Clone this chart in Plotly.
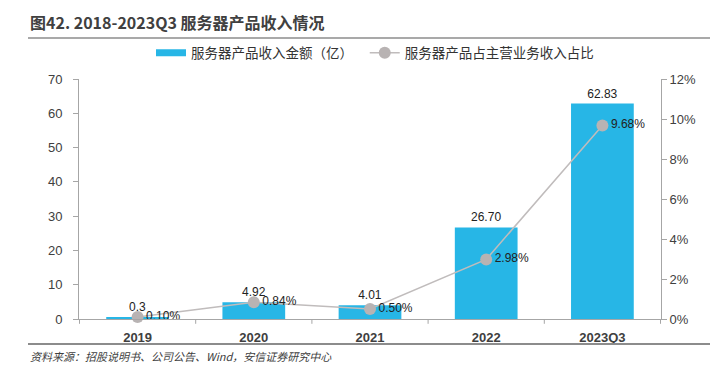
import plotly.graph_objects as go

categories = ["2019", "2020", "2021", "2022", "2023Q3"]
revenue = [0.3, 4.92, 4.01, 26.70, 62.83]
revenue_labels = ["0.3", "4.92", "4.01", "26.70", "62.83"]
share = [0.10, 0.84, 0.50, 2.98, 9.68]
share_labels = ["0.10%", "0.84%", "0.50%", "2.98%", "9.68%"]
left_ticks = [0, 10, 20, 30, 40, 50, 60, 70]
right_ticks = [0, 2, 4, 6, 8, 10, 12]
right_tick_labels = ["0%", "2%", "4%", "6%", "8%", "10%", "12%"]

FONT = "Liberation Sans, Arial, Noto Sans CJK SC, sans-serif"
CJK = "Noto Sans CJK SC, sans-serif"
BLUE = "#27b6e6"

fig = go.Figure()
fig.add_trace(go.Bar(
    x=categories, y=revenue, name="服务器产品收入金额（亿）", showlegend=False,
    marker=dict(color=BLUE, line=dict(width=0)),
    width=0.54,
    text=revenue_labels, textposition="outside", cliponaxis=False,
    textfont=dict(size=12, color="#222222", family=FONT),
))
# legend-only entry drawn as a wide bar swatch
fig.add_trace(go.Scatter(
    x=[None], y=[None], mode="lines", name="服务器产品收入金额（亿）　",
    line=dict(color=BLUE, width=7), showlegend=True,
))
fig.add_trace(go.Scatter(
    x=categories, y=share, yaxis="y2", name="服务器产品占主营业务收入占比",
    mode="lines+markers+text",
    line=dict(color="#c0bcbc", width=1.5),
    marker=dict(color="#b8b3b3", size=12),
    text=share_labels, textposition="middle right", cliponaxis=False,
    textfont=dict(size=12, color="#222222", family=FONT),
))

fig.update_layout(
    width=710, height=367,
    margin=dict(l=79, r=49, t=79, b=48),
    paper_bgcolor="white", plot_bgcolor="white",
    showlegend=True,
    legend=dict(orientation="h", x=(151 - 79)/582, xanchor="left", y=1 + (79 - 53)/240, yanchor="middle",
                font=dict(size=13.5, family=CJK, color="#333333"),
                itemwidth=30, traceorder="normal", bgcolor="rgba(0,0,0,0)"),
    xaxis=dict(
        type="category", showline=True, linecolor="#a6a6a6", linewidth=1,
        ticks="", showgrid=False, ticklabelstandoff=6,
        tickfont=dict(size=13, family=FONT, color="#404040", weight="bold"),
    ),
    yaxis=dict(
        range=[0, 70], tickvals=left_ticks, showgrid=False, zeroline=False,
        showline=True, linecolor="#a6a6a6", linewidth=1,
        ticks="outside", ticklen=5, tickcolor="#a6a6a6", ticklabelstandoff=8,
        tickfont=dict(size=13, family=FONT, color="#404040"),
    ),
    yaxis2=dict(
        range=[0, 12], tickvals=right_ticks, ticktext=right_tick_labels,
        overlaying="y", side="right", showgrid=False, zeroline=False,
        showline=True, linecolor="#a6a6a6", linewidth=1,
        ticks="outside", ticklen=5, tickcolor="#a6a6a6",
        tickfont=dict(size=13, family=FONT, color="#404040"),
    ),
)

# category boundary tick marks on the x axis
for i in range(len(categories) + 1):
    fig.add_shape(type="line", xref="x", yref="paper", x0=i - 0.5, x1=i - 0.5,
                  y0=0, y1=-0.02, line=dict(color="#a6a6a6", width=1))

# title
fig.add_annotation(text="<b>图42. 2018-2023Q3 服务器产品收入情况</b>", xref="paper", yref="paper",
                   x=(28 - 79)/582, xanchor="left", y=1 + (79 - 22)/240, yanchor="middle",
                   showarrow=False, font=dict(size=16, family=CJK, color="#404040"))
fig.add_shape(type="line", xref="paper", yref="paper",
              x0=(28 - 79)/582, x1=(710 - 79)/582, y0=1 + (79 - 38)/240, y1=1 + (79 - 38)/240,
              line=dict(color="#8c8c8c", width=1.5))
# bottom rule
fig.add_shape(type="line", xref="paper", yref="paper",
              x0=(28 - 79)/582, x1=(710 - 79)/582, y0=-(344 - 319)/240, y1=-(344 - 319)/240,
              line=dict(color="#8c8c8c", width=2))
# source
fig.add_annotation(text="<i>资料来源：招股说明书、公司公告、Wind，安信证券研究中心</i>", xref="paper", yref="paper",
                   x=(28 - 79)/582, xanchor="left", y=-(356 - 319)/240, yanchor="middle",
                   showarrow=False, font=dict(size=11, family=CJK, color="#404040"))

fig.write_html("out.html", config={"displayModeBar": False},
               post_script="document.body.style.margin='0';")
